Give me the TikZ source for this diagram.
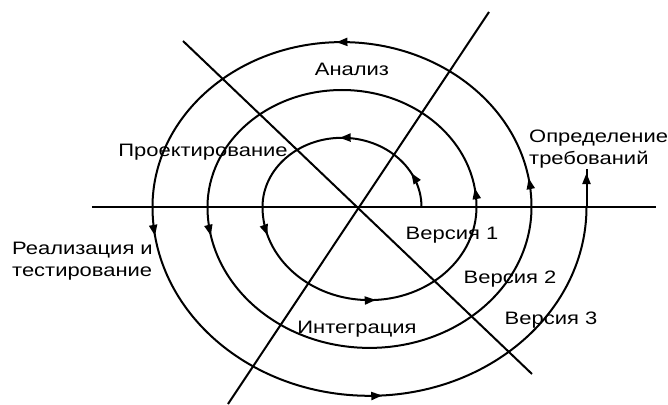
\documentclass[tikz,border=0pt]{standalone}
\usepackage{fontspec}
\setmainfont[FakeStretch=1.22]{Liberation Sans}
\usetikzlibrary{arrows.meta,decorations.markings}

\begin{document}
\begin{tikzpicture}[
  x=1pt,y=1pt,
  >={Triangle[length=11pt,width=8pt]},
  line/.style={line width=2pt},
  tip/.style={decoration={markings,mark=at position #1 with {\arrow{>}}},postaction={decorate}},
  tips/.style 2 args={decoration={markings,mark=at position #1 with {\arrow{>}},mark=at position #2 with {\arrow{>}}},postaction={decorate}},
  txt/.style={font=\fontsize{18}{22}\selectfont,inner sep=0pt,align=left}
]
\useasboundingbox (-359,-197) rectangle (309,207);
% axes
\draw[line] (-267,0) -- (297,0);
\draw[line] (-176,166) -- (173,-167);
\draw[line] (130,195) -- (-131,-197);
% spiral, upper halves
\draw[line,tips={36pt}{0.51}] (62.5,0) arc[start angle=0,end angle=180,x radius=79.5,y radius=69.2];
\draw[line,tip=19pt] (117.5,0) arc[start angle=0,end angle=180,x radius=134.5,y radius=117];
\draw[line,tips={29pt}{0.51}] (172.5,0) arc[start angle=0,end angle=180,x radius=189.5,y radius=164.9];
% spiral, lower halves
\draw[line,tips={29pt}{0.52}] (-96.5,0) arc[start angle=180,end angle=360,x radius=107,y radius=93.1];
\draw[line,tip=29pt] (-151.5,0) arc[start angle=180,end angle=360,x radius=162,y radius=140.9];
\draw[line,tips={29pt}{0.52}] (-206.5,0) arc[start angle=180,end angle=360,x radius=217,y radius=188.8];
\draw[line,tip=34pt] (227.5,0) -- (227.5,38);
% labels
\node[txt] (analysis) at (-7,138) {Анализ};
\node[txt] (design) at (-156,55) {Проектирование};
\node[txt,anchor=west] (requirements) at (170,58) {Определение\\требований};
\node[txt,anchor=west] (implementation) at (-347,-54) {Реализация и\\тестирование};
\node[txt] (integration) at (-2,-122) {Интеграция};
\node[txt] (v1) at (93,-28) {Версия 1};
\node[txt] (v2) at (151,-72) {Версия 2};
\node[txt] (v3) at (192,-113) {Версия 3};
\end{tikzpicture}
\end{document}
